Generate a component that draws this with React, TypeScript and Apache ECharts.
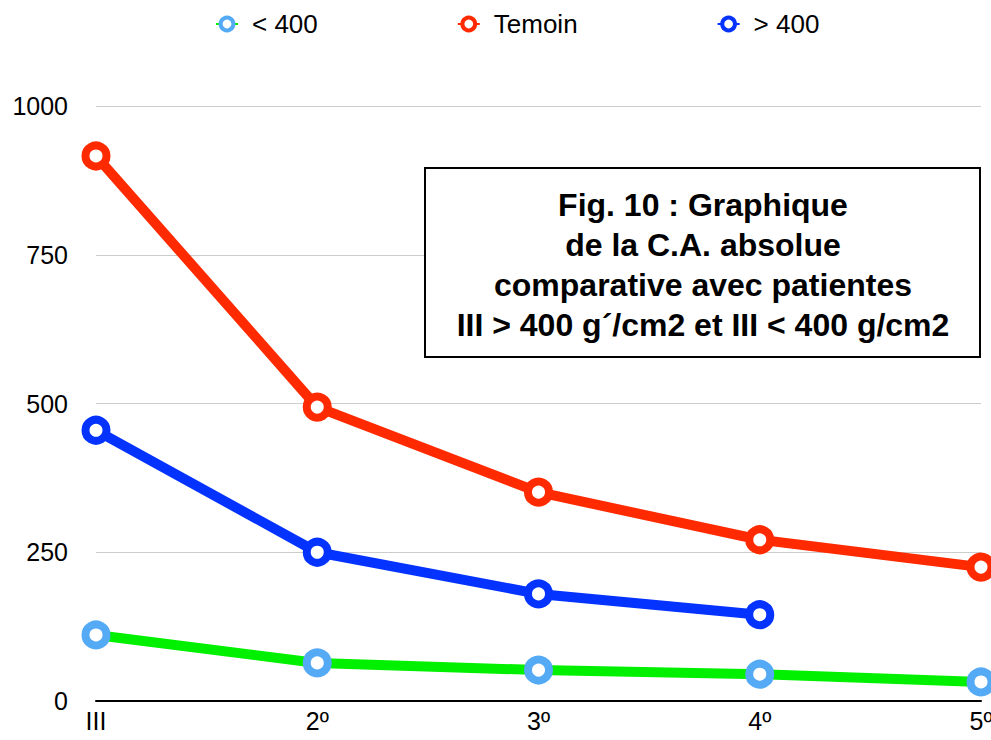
import React, { useEffect, useRef } from "react";
import * as echarts from "echarts";

const categories = ["III", "2º", "3º", "4º", "5º"];
const seriesNames = ["< 400", "Temoin", "> 400"];
const lowValues = [111, 64, 52, 45, 32];
const temoinValues = [916, 494, 351, 271, 225];
const highValues = [455, 250, 180, 145];
const yTicks = [0, 250, 500, 750, 1000];
const titleLines = [
  "Fig. 10 : Graphique",
  "de la C.A. absolue",
  "comparative avec patientes",
  "III > 400 g´/cm2 et III < 400 g/cm2",
];

const FONT = "'Liberation Sans', Arial, Helvetica, sans-serif";

export default function App() {
  const ref = useRef<HTMLDivElement>(null);
  useEffect(() => {
    if (!ref.current) return;
    const chart = echarts.init(ref.current, null, { renderer: "svg" });
    const mk = (name: string, data: number[], lineColor: string, markColor: string, z: number) => ({
      name,
      type: "line",
      data,
      z,
      symbol: "circle",
      symbolSize: 21,
      showAllSymbol: true,
      clip: false,
      lineStyle: { color: lineColor, width: 10 },
      itemStyle: { color: "#ffffff", borderColor: markColor, borderWidth: 8 },
      emphasis: { disabled: true },
    });
    const legendItem = (name: string, markColor: string) => ({
      name,
      itemStyle: { color: "#ffffff", borderColor: markColor, borderWidth: 4 },
    });
    chart.setOption({
      animation: false,
      textStyle: { fontFamily: FONT },
      legend: {
        top: 6,
        left: 210,
        itemGap: 139,
        itemWidth: 22,
        itemHeight: 16,
        textStyle: { fontSize: 26, color: "#000", fontFamily: FONT, padding: [0, 0, 0, 9] },
        data: [
          legendItem(seriesNames[0], "#55AAF6"),
          legendItem(seriesNames[1], "#FF2A00"),
          legendItem(seriesNames[2], "#0433FF"),
        ],
      },
      grid: {
        left: 96,
        right: 10,
        top: 106,
        bottom: 39,
        containLabel: false,
        outerBoundsMode: "none",
      },
      xAxis: {
        type: "category",
        data: categories,
        boundaryGap: false,
        axisLine: { lineStyle: { color: "#000", width: 2 } },
        axisTick: { show: false },
        axisLabel: { fontSize: 25, color: "#000", margin: 7, fontFamily: FONT },
        splitLine: { show: false },
      },
      yAxis: {
        type: "value",
        min: yTicks[0],
        max: yTicks[yTicks.length - 1],
        interval: yTicks[1] - yTicks[0],
        axisLine: { show: false },
        axisTick: { show: false },
        axisLabel: {
          fontSize: 25,
          color: "#000",
          margin: 28,
          fontFamily: FONT,
          formatter: (v: number) => String(v),
        },
        splitLine: { lineStyle: { color: "#cccccc", width: 1 } },
      },
      series: [
        mk(seriesNames[0], lowValues, "#00F000", "#55AAF6", 2),
        mk(seriesNames[1], temoinValues, "#FF2A00", "#FF2A00", 3),
        mk(seriesNames[2], highValues, "#0433FF", "#0433FF", 4),
      ],
      graphic: [
        {
          type: "rect",
          shape: { x: 425, y: 168, width: 555, height: 189 },
          style: { fill: "#fff", stroke: "#000", lineWidth: 2 },
          z: 100,
        },
        {
          type: "text",
          x: 703,
          y: 185,
          z: 101,
          style: {
            text: titleLines.join("\n"),
            fill: "#000",
            font: `bold 32px ${FONT}`,
            textAlign: "center",
            lineHeight: 40,
          },
        },
      ],
    });
    return () => chart.dispose();
  }, []);
  return (
    <div
      ref={ref}
      style={{ position: "absolute", left: 0, top: 0, width: 991, height: 740, background: "#fff" }}
    />
  );
}
